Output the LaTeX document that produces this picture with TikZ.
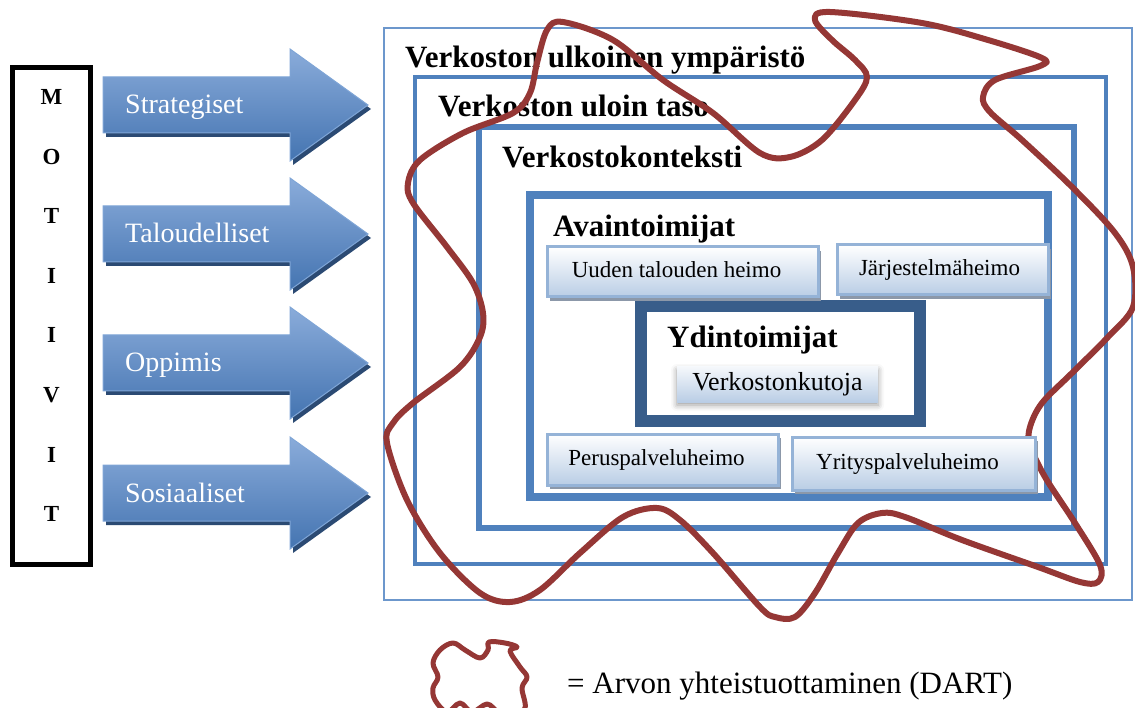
\documentclass[tikz,border=0pt]{standalone}
\usepackage{fontspec}
\setmainfont{Liberation Serif}
\usetikzlibrary{shadows,shadows.blur}
\definecolor{frameblue}{HTML}{4F81BD}
\definecolor{thinblue}{HTML}{6C97CC}
\definecolor{coreblue}{HTML}{385D8A}
\definecolor{tribeline}{HTML}{95B3D7}
\definecolor{tribefill}{HTML}{B9CDE5}
\definecolor{tribeshadow}{HTML}{8C98A9}
\definecolor{dartred}{HTML}{953735}
\definecolor{arrowtop}{HTML}{8AACDA}
\definecolor{arrowmid}{HTML}{4F81BD}
\definecolor{arrowbot}{HTML}{4474B1}
\definecolor{arrowline}{HTML}{7FA5D6}
\definecolor{arrowshadow}{HTML}{2B4A73}

\begin{document}
\begin{tikzpicture}[x=1pt, y=-1pt,
    level/.style={draw=frameblue, inner sep=0pt},
    head/.style={anchor=base west, inner sep=0pt, font=\fontsize{31}{34}\selectfont\bfseries},
    tribe/.style={draw=tribeline, line width=3pt, inner sep=0pt, top color=white, bottom color=tribefill,
        drop shadow={shadow xshift=3pt, shadow yshift=-4pt, fill=tribeshadow, opacity=1},
        text height=16pt, text depth=5pt, font=\fontsize{23}{25}\selectfont},
    motive/.style={draw=arrowline, line width=1pt, top color=arrowtop, middle color=arrowmid, bottom color=arrowbot},
    motivetext/.style={anchor=base west, inner sep=0pt, text=white, font=\fontsize{28}{30}\selectfont},
    letter/.style={anchor=base, inner sep=0pt, font=\fontsize{23}{25}\selectfont\bfseries},
    dart/.style={draw=dartred, line width=6pt, line join=round}]
\useasboundingbox (0,0) rectangle (1135,708);

\node [draw, line width=5pt, minimum width=78pt, minimum height=497pt] (MB) at (51.5,316) {};
\foreach \l [count=\i] in {M,O,T,I,I,V,I,T}
    \node [letter] (L\i) at (51.5,45+59.6*\i) {\l};

\foreach \y/\t in {105/Strategiset,234/Taloudelliset,363/Oppimis,493/Sosiaaliset}{
    \fill [arrowshadow] (106,\y-24) -- (293,\y-24) -- (293,\y-52) -- (371,\y+4) -- (293,\y+60) -- (293,\y+32) -- (106,\y+32) -- cycle;
    \shade [motive] (103,\y-28) -- (290,\y-28) -- (290,\y-56) -- (368,\y) -- (290,\y+56) -- (290,\y+28) -- (103,\y+28) -- cycle;
    \node [motivetext] (\t) at (125,\y+9) {\t};
}

\node [level, draw=thinblue, line width=2pt, minimum width=748pt, minimum height=572pt] (UY) at (758,314) {};
\node [level, line width=4pt, minimum width=691pt, minimum height=486pt] (UT) at (760.5,320.5) {};
\node [level, line width=6pt, minimum width=594.5pt, minimum height=400pt] (VK) at (776.25,327.5) {};
\node [level, line width=8pt, minimum width=518pt, minimum height=301.5pt] (AT) at (788.5,345.75) {};
\node [level, draw=coreblue, line width=12pt, minimum width=279pt, minimum height=115pt] (YT) at (780.5,363.5) {};

\node [head] (UYt) at (405,68) {Verkoston ulkoinen ympäristö};
\node [head] (UTt) at (438,117) {Verkoston uloin taso};
\node [head] (VKt) at (502,168) {Verkostokonteksti};
\node [head] (ATt) at (553,237) {Avaintoimijat};
\node [head] (YTt) at (667,348) {Ydintoimijat};

\node [inner sep=0pt, minimum width=201pt, minimum height=35pt, top color=white!85!tribefill, bottom color=tribefill,
    blur shadow={shadow xshift=0pt, shadow yshift=-3pt, shadow blur radius=6pt},
    text height=18pt, text depth=6pt, font=\fontsize{26}{28}\selectfont] (VKT) at (777.5,384.5) {Verkostonkutoja};

\draw [dart] plot [smooth cycle, tension=0.55] coordinates {
    (563,22) (613,40) (663,80) (713,113) (760,153) (790,157) (822,140) (855,100) (867,77) (855,60)
    (832,40) (815,20) (830,12) (922,23) (988,40) (1042,58) (1040,66) (995,80) (983,97) (990,112)
    (1022,140) (1072,187) (1115,233) (1133,267) (1133,307) (1108,337) (1072,373) (1042,403) (1030,427) (1030,445)
    (1045,477) (1075,523) (1100,565) (1098,582) (1080,582) (1038,567) (962,540) (905,517) (882,513) (858,523)
    (838,553) (815,593) (795,617) (775,617) (760,607) (713,553) (680,520) (657,508) (623,517) (580,553)
    (540,590) (510,602) (480,593) (440,553) (407,500) (387,443) (393,423) (413,403) (460,367) (480,337)
    (483,313) (473,283) (447,247) (413,203) (408,183) (420,160) (463,133) (513,113) (530,93) (537,63) (547,30)};

\node [tribe, minimum width=271pt, minimum height=50pt] (UTH) at (682.5,272) {Uuden talouden heimo\kern12pt};
\node [tribe, minimum width=211pt, minimum height=50pt] (JH) at (942.5,270) {Järjestelmäheimo\kern6pt};
\node [tribe, minimum width=231pt, minimum height=51pt] (PH) at (662.5,459.5) {Peruspalveluheimo\kern12pt};
\node [tribe, minimum width=243pt, minimum height=53pt] (YPH) at (913.5,463.5) {Yrityspalveluheimo\kern12pt};

\draw [dart, line width=5pt] plot [smooth cycle, tension=0.6] coordinates {
    (433,663) (440,650) (453,643) (465,650) (480,658) (488,650) (489,642) (505,643) (517,647) (510,651)
    (520,667) (527,677) (522,688) (525,708) (512,716) (498,712) (487,704) (472,712) (460,703) (447,712)
    (435,700) (433,688) (438,677)};
\node [anchor=base west, inner sep=0pt, font=\fontsize{31}{33}\selectfont] (DART) at (567,693) {= Arvon yhteistuottaminen (DART)};
\end{tikzpicture}
\end{document}
